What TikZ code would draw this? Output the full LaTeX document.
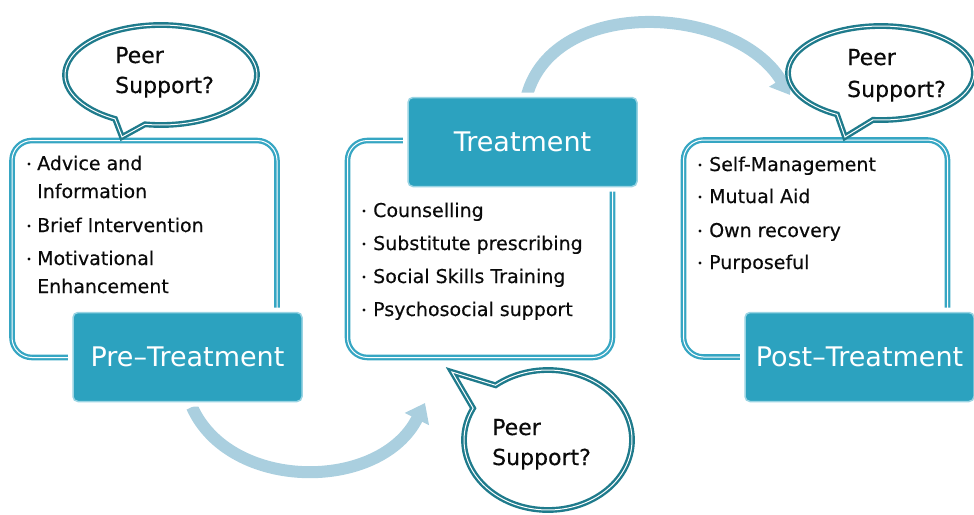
\documentclass[tikz,border=0pt]{standalone}
\usepackage{fontspec}
\setmainfont{DejaVu Sans}
\newfontfamily\darkfont[FakeBold=0.35]{DejaVu Sans}
\usetikzlibrary{arrows.meta}
\definecolor{boxc}{HTML}{36A6C3}
\definecolor{lblfill}{HTML}{2CA2BF}
\definecolor{lbledge}{HTML}{9AD4E3}
\definecolor{bubc}{HTML}{1F7B8C}
\definecolor{arrc}{HTML}{AACFDF}
\definecolor{txtc}{HTML}{0A0A0A}
\begin{document}
\begin{tikzpicture}[x=1pt,y=-1pt,
 contentbox/.style={draw=boxc, line width=2.3pt, double=white, double distance=1pt, rounded corners=20pt, inner sep=0pt, fill=white},
 labelbox/.style={preaction={draw=white,line width=10pt}, fill=lblfill, draw=lbledge, line width=1.5pt, rounded corners=5pt, text=white, font=\fontsize{27}{32}\selectfont, inner sep=0pt, minimum width=229pt, minimum height=89pt},
 bubble/.style={draw=bubc, line width=2.4pt, double=white, double distance=1pt, fill=white},
 item/.style={anchor=base west, inner sep=0pt, text=txtc, font=\darkfont\fontsize{19}{23}\selectfont},
 peer/.style={anchor=base west, inner sep=0pt, text=txtc, font=\darkfont\fontsize{22}{26}\selectfont},
 bul/.style={circle, fill=txtc, inner sep=0pt, minimum size=3.4pt},
 flow/.style={draw=arrc, line width=12pt, -{Triangle[width=26pt,length=18pt]}}
]
\useasboundingbox (0,0) rectangle (974,514);
% arrows
\coordinate (a1s) at (192,407);
\coordinate (a1e) at (425,403);
\draw[flow] (a1s) .. controls (230,492) and (380,492) .. (a1e);
\coordinate (a2s) at (527,95);
\coordinate (a2e) at (790,95);
\draw[flow] (a2s) .. controls (555,-5) and (735,5) .. (a2e);
% content boxes
\node[contentbox, minimum width=265pt, minimum height=217pt] (c1) at (144.5,249) {};
\node[contentbox, minimum width=265pt, minimum height=217pt] (c2) at (480,249) {};
\node[contentbox, minimum width=264pt, minimum height=217pt] (c3) at (815.5,248.5) {};
% bubbles
\draw[bubble] (161,75) ++(99.6:96 and 50) arc[start angle=99.6, end angle=-241.4, x radius=96, y radius=50] -- (122,137) -- cycle;
\draw[bubble] (548,440) ++(-128.6:84 and 70) arc[start angle=-128.6, end angle=207, x radius=84, y radius=70] -- (452,372) -- cycle;
\draw[bubble] (881,73) ++(94.9:93 and 47) arc[start angle=94.9, end angle=-241.8, x radius=93, y radius=47] -- (845,137) -- cycle;
\node[peer] (p1a) at (115,63) {Peer};
\node[peer] (p1b) at (115,93) {Support?};
\node[peer] (p2a) at (492,435) {Peer};
\node[peer] (p2b) at (492,465) {Support?};
\node[peer] (p3a) at (847,65) {Peer};
\node[peer] (p3b) at (847,97) {Support?};
% labels
\node[labelbox] (l1) at (187.5,357) {Pre–Treatment};
\node[labelbox] (l2) at (522.5,142) {Treatment};
\node[labelbox] (l3) at (859.5,357) {Post–Treatment};
% items box 1
\node[bul] (b11) at (29,164) {};
\node[item] (i11) at (37,170) {Advice and};
\node[item] (i12) at (37,198) {Information};
\node[bul] (b12) at (29,226) {};
\node[item] (i13) at (37,232) {Brief Intervention};
\node[bul] (b13) at (29,259) {};
\node[item] (i14) at (37,265) {Motivational};
\node[item] (i15) at (37,293) {Enhancement};
% items box 2
\node[bul] (b21) at (364,211) {};
\node[item] (i21) at (373,217) {Counselling};
\node[bul] (b22) at (364,244) {};
\node[item] (i22) at (373,250) {Substitute prescribing};
\node[bul] (b23) at (364,277) {};
\node[item] (i23) at (373,283) {Social Skills Training};
\node[bul] (b24) at (364,310) {};
\node[item] (i24) at (373,316) {Psychosocial support};
% items box 3
\node[bul] (b31) at (700,165) {};
\node[item] (i31) at (709,171) {Self-Management};
\node[bul] (b32) at (700,197) {};
\node[item] (i32) at (709,203) {Mutual Aid};
\node[bul] (b33) at (700,231) {};
\node[item] (i33) at (709,237) {Own recovery};
\node[bul] (b34) at (700,263) {};
\node[item] (i34) at (709,269) {Purposeful};
\end{tikzpicture}
\end{document}
